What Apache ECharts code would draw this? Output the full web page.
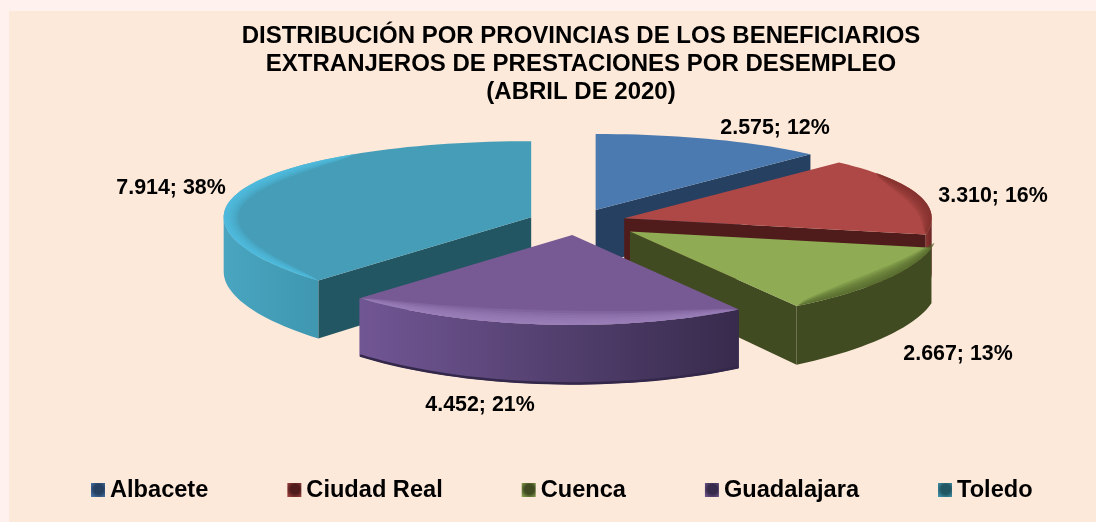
<!DOCTYPE html>
<html lang="es">

<head>
    <meta charset="UTF-8">
    <title>Beneficiarios extranjeros</title>
    <script src="https://cdnjs.cloudflare.com/ajax/libs/echarts/6.0.0/echarts.min.js"></script>
    <style>
        html, body { margin: 0; padding: 0; background: #fff2ee; }
    </style>
</head>

<body>
    <div id="main" style="width: 1096px;height:522px;"></div>

    <script>
        // chart data
        var categories = ["Albacete", "Ciudad Real", "Cuenca", "Guadalajara", "Toledo"];
        var values = [2575, 3310, 2667, 4452, 7914];
        var titleLines = [
            "DISTRIBUCIÓN POR PROVINCIAS DE LOS BENEFICIARIOS",
            "EXTRANJEROS DE PRESTACIONES POR DESEMPLEO",
            "(ABRIL DE 2020)"
        ];

        // look of each slice
        var topColors = ["#4a7ab0", "#ae4846", "#8fac54", "#775a93", "#459db8"];
        var faceColors = ["#254061", "#4f1c1b", "#404b22", "#362b4a", "#235663"];
        var wallLeft = ["#4a7ab0", "#8a3532", "#404b22", "#715694", "#49a5c0"];
        var wallRight = ["#254061", "#6d2624", "#404b22", "#372b4c", "#3f97b0"];
        var bevelColors = ["#4a7ab0", "#7c2c2a", "#4f5f28", "#a487c6", "#50c4e6"];
        var bevelFrom = [44, 55, 98, 147.5, 224];
        var bevelTo = [44, 101, 147, 223.5, 325];
        var drawOrder = [1, 3, 4, 5, 2];
        var explode = [49.4, 49.4, 64, 49.4, 49.4];
        var labelX = [775, 993, 958, 480, 171];
        var labelY = [128, 196, 354, 405, 188];

        // pie projection
        var CX = 577, CY = 222, RX = 307.5, RY = 82.4, PERSP = 0.0843, DEPTH = 54.5, EXPLODE_Y = 0.263;

        var total = values.reduce((a, b) => a + b, 0);

        function sliceAngles(i) {
            var start = 0;
            for (var j = 0; j < i; j++) start += values[j] / total * 360;
            return [start, start + values[i] / total * 360];
        }

        function rad(d) { return d * Math.PI / 180; }

        // point on the rim of a slice, inset px towards the centre
        function rim(apex, deg, drop, inset) {
            var u = Math.sin(rad(deg)), v = Math.cos(rad(deg));
            var f = 1 / (1 + PERSP * v);
            return [
                apex[0] + RX * u - (inset || 0) * u,
                apex[1] - RY * v * f + (inset || 0) * v + (drop ? DEPTH * f : 0)
            ];
        }

        function arc(apex, from, to, drop, inset) {
            var pts = [];
            var n = Math.max(2, Math.ceil(Math.abs(to - from) / 2));
            for (var i = 0; i <= n; i++) pts.push(rim(apex, from + (to - from) * i / n, drop, inset));
            return pts;
        }

        function poly(points, fill, opacity) {
            return { type: "polygon", shape: { points: points }, style: { fill: fill, opacity: opacity == null ? 1 : opacity } };
        }

        // band along the rim that gets thin at both ends
        function bevelBand(apex, from, to, width) {
            var outer = [], inner = [];
            var n = Math.ceil((to - from) / 2);
            for (var i = 0; i <= n; i++) {
                var t = i / n, deg = from + (to - from) * t;
                outer.push(rim(apex, deg, false, 0));
                inner.push(rim(apex, deg, false, width * Math.pow(Math.sin(Math.PI * t), 0.6)));
            }
            return outer.concat(inner.reverse());
        }

        function formatLabel(value) {
            var txt = String(value).replace(/\B(?=(\d{3})+$)/g, ".");
            return txt + "; " + Math.round(value / total * 100) + "%";
        }

        function drawSlice(i, value) {
            var ang = sliceAngles(i);
            var a = ang[0], b = ang[1], mid = (a + b) / 2;
            var apex = [
                CX + explode[i] * Math.sin(rad(mid)),
                CY - explode[i] * EXPLODE_Y * Math.cos(rad(mid))
            ];
            var apexLow = [apex[0], apex[1] + DEPTH];
            var kids = [];

            // cut faces, only the ones turned to the viewer
            if (Math.sin(rad(a)) < -0.001) {
                kids.push(poly([apex, rim(apex, a), rim(apex, a, true), apexLow], faceColors[i]));
            }
            if (Math.sin(rad(b)) > 0.001) {
                kids.push(poly([apex, rim(apex, b), rim(apex, b, true), apexLow], faceColors[i]));
            }

            // outer wall, front half only
            var w0 = Math.max(a, 90), w1 = Math.min(b, 270);
            if (w1 > w0) {
                var upper = arc(apex, w0, w1, false);
                var lower = arc(apex, w0, w1, true).reverse();
                kids.push(poly(upper.concat(lower), {
                    type: "linear", x: 0, y: 0, x2: 1, y2: 0,
                    colorStops: [
                        { offset: 0, color: wallLeft[i] },
                        { offset: 1, color: wallRight[i] }
                    ]
                }));
                if (i == 3) {
                    kids.push({
                        type: "polyline",
                        shape: { points: arc(apex, w0, w1, true, 1) },
                        style: { stroke: "#33274a", lineWidth: 2.5, fill: null }
                    });
                }
            }

            // top
            kids.push(poly([apex].concat(arc(apex, a, b, false)), topColors[i]));

            // soft rim on the top face
            if (bevelTo[i] > bevelFrom[i]) {
                for (var s = 1; s <= 6; s++) {
                    kids.push(poly(bevelBand(apex, bevelFrom[i], bevelTo[i], s * 2.4), bevelColors[i], 0.22));
                }
            }

            // data label
            kids.push({
                type: "text",
                x: labelX[i],
                y: labelY[i],
                style: {
                    text: formatLabel(value),
                    fill: "#000",
                    font: "bold 21.4px 'Liberation Sans', Arial",
                    align: "center",
                    verticalAlign: "middle"
                }
            });

            return { type: "group", children: kids };
        }

        var chart1 = echarts.init(document.getElementById("main"));

        var option = {
            animation: false,
            backgroundColor: "#fff2ee",
            graphic: [{
                type: "rect",
                z: -10,
                shape: { x: 9, y: 11, width: 1087, height: 511 },
                style: { fill: "#fde9da" }
            }],
            title: {
                text: titleLines.join("\n"),
                left: 576,
                top: 17,
                textAlign: "center",
                textStyle: {
                    fontFamily: "'Liberation Sans', Arial",
                    fontWeight: "bold",
                    fontSize: 24,
                    lineHeight: 28,
                    color: "#000"
                }
            },
            legend: {
                left: 86,
                top: 473,
                itemWidth: 14,
                itemHeight: 14,
                itemGap: 79,
                icon: "rect",
                textStyle: {
                    fontFamily: "'Liberation Sans', Arial",
                    fontWeight: "bold",
                    fontSize: 23.6,
                    color: "#000"
                },
                data: categories.map((name, i) => ({
                    name: name,
                    itemStyle: {
                        color: {
                            type: "radial", x: 0.55, y: 0.45, r: 0.75,
                            colorStops: [
                                { offset: 0, color: faceColors[i] },
                                { offset: 0.45, color: faceColors[i] },
                                { offset: 1, color: topColors[i] }
                            ]
                        }
                    }
                }))
            },
            series: categories.map((name, i) => ({
                type: "custom",
                name: name,
                coordinateSystem: "none",
                z: drawOrder[i],
                silent: true,
                itemStyle: { color: topColors[i] },
                data: [[values[i]]],
                renderItem: (params, api) => drawSlice(i, api.value(0))
            }))
        };

        chart1.setOption(option);
    </script>
</body>

</html>
